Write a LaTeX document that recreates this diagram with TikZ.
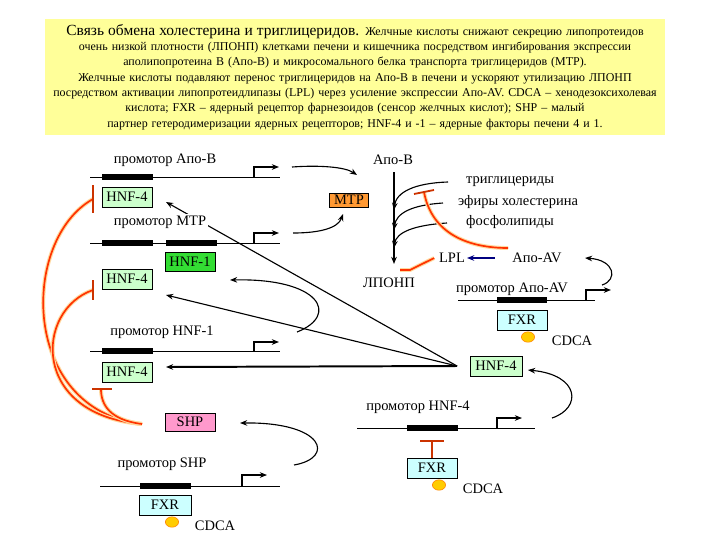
\documentclass[tikz,border=0pt]{standalone}
\usepackage{fontspec}
\setmainfont{Liberation Serif}
\usepackage{xcolor}
\usetikzlibrary{positioning,arrows.meta,shapes.geometric}
\definecolor{notec}{HTML}{FFFF99}
\definecolor{hnfc}{HTML}{CCFFCC}
\definecolor{hnfonec}{HTML}{33DD33}
\definecolor{mtpc}{HTML}{FF9933}
\definecolor{fxrc}{HTML}{CCFFFF}
\definecolor{shpc}{HTML}{FF99CC}
\definecolor{inhc}{HTML}{FF3300}
\definecolor{glowc}{HTML}{FFD9A0}
\definecolor{barc}{HTML}{CC3300}
\definecolor{cdcac}{HTML}{FFCC00}
\definecolor{lplc}{HTML}{000080}

\begin{document}
\begin{tikzpicture}[x=0.025cm,y=-0.025cm,>={Stealth[length=1.8mm,width=1.4mm]},
  font=\fontsize{10.3}{12}\selectfont,
  box/.style={draw,inner sep=0pt,minimum width=1.25cm,minimum height=0.5cm},
  hnf/.style={box,fill=hnfc},
  hnfone/.style={box,fill=hnfonec,minimum height=0.47cm},
  mtp/.style={box,fill=mtpc,minimum width=0.98cm,minimum height=0.36cm},
  fxr/.style={box,fill=fxrc},
  shp/.style={box,fill=shpc,minimum height=0.46cm},
  lig/.style={ellipse,draw=orange,fill=cdcac,inner sep=0pt,minimum width=0.33cm,minimum height=0.26cm},
  dna/.style={line width=0.6pt},
  site/.style={line width=3.6pt},
  act/.style={->,line width=0.8pt},
  inh/.style={draw=inhc,line width=1.2pt,preaction={draw=glowc,line width=2.8pt}},
  tbar/.style={draw=barc,line width=1.3pt}]
\useasboundingbox (0,0) rectangle (720,540);

% note
\node[fill=notec,minimum width=15.5cm,minimum height=2.875cm,text width=15.3cm,align=center,
  inner sep=0pt,font=\fontsize{8.5}{10.9}\selectfont] (note) at (355,77)
{{\fontsize{11}{13}\selectfont Связь обмена холестерина и триглицеридов.} Желчные кислоты снижают секрецию липопротеидов\\
очень низкой плотности (ЛПОНП) клетками печени и кишечника посредством ингибирования экспрессии\\
аполипопротеина В (Апо-В) и микросомального белка транспорта триглицеридов (МТР).\\
Желчные кислоты подавляют перенос триглицеридов на Апо-В в печени и ускоряют утилизацию ЛПОНП\\
посредством активации липопротеидлипазы (LPL) через усиление экспрессии Апо-AV. CDCA – хенодезоксихолевая\\
кислота; FXR – ядерный рецептор фарнезоидов (сенсор желчных кислот); SHP – малый\\
партнер гетеродимеризации ядерных рецепторов; HNF-4 и -1 – ядерные факторы печени 4 и 1.};

% promoters
\draw[dna] (90,177) -- (280,177);
\draw[site] (102,177) -- (153,177);
\draw[act] (254,177) -- (254,167) -- (279,167);
\draw[dna] (90,243) -- (280,243);
\draw[site] (102,243) -- (153,243);
\draw[site] (166,243) -- (217,243);
\draw[act] (254,243) -- (254,233) -- (279,233);
\draw[dna] (90,351) -- (280,351);
\draw[site] (102,351) -- (153,351);
\draw[act] (254,351) -- (254,342) -- (279,342);
\draw[dna] (100,486) -- (280,486);
\draw[site] (140,486) -- (191,486);
\draw[act] (242,486) -- (242,475) -- (267,475);
\draw[dna] (458,300) -- (595,300);
\draw[site] (497,300) -- (547,300);
\draw[act] (586,300) -- (586,290) -- (611,290);
\draw[dna] (357,428) -- (535,428);
\draw[site] (407,428) -- (458,428);
\draw[act] (497,428) -- (497,418) -- (522,418);

% boxes
\node[hnf] (h4a) at (127,197) {HNF-4};
\node[hnf] (h4b) at (127,279) {HNF-4};
\node[hnf] (h4c) at (127,372) {HNF-4};
\node[hnf,minimum width=1.3cm] (h4d) at (496,366) {HNF-4};
\node[hnfone] (h1) at (190,262) {HNF-1};
\node[mtp] (mtp) at (349,200) {MTP};
\node[fxr] (fxr1) at (522,320) {FXR};
\node[fxr] (fxr2) at (432,468) {FXR};
\node[fxr,minimum width=1.3cm] (fxr3) at (165,505) {FXR};
\node[shp] (shp) at (190,422) {SHP};
\node[lig] (g1) at (528,337) {};
\node[lig] (g2) at (439,485) {};
\node[lig] (g3) at (172,522) {};

% labels
\node (lpb) at (165,160) {промотор Апо-В};
\node (apob) at (393,160) {Апо-В};
\node (lph1) at (162,332) {промотор HNF-1};
\node (lph4) at (418,407) {промотор HNF-4};
\node (lpav) at (512,289) {промотор Апо-AV};
\node (lpshp) at (162,464) {промотор SHP};
\node (tg) at (510,182) {триглицериды};
\node (ec) at (518,202) {эфиры холестерина};
\node (pl) at (510,222) {фосфолипиды};
\node (lpl) at (452,258) {LPL};
\node (apoav) at (537,258) {Апо-AV};
\node (vldl) at (389,283) {ЛПОНП};
\node (cd1) at (572,341) {CDCA};
\node (cd2) at (483,489) {CDCA};
\node (cd3) at (215,526) {CDCA};

\coordinate (bS) at (292,167);
\coordinate (bE) at (357,175);
\coordinate (mS) at (293,233);
\coordinate (mE) at (343,214);
\coordinate (hub) at (457,366);
\coordinate (t4a) at (166,202);
\coordinate (t4b) at (166,295);
\coordinate (t4c) at (166,367);
\coordinate (n1S) at (297,332);
\coordinate (n1E) at (230,280);
\coordinate (sS) at (294,465);
\coordinate (sE) at (240,423);
\coordinate (aS) at (602,285);
\coordinate (aE) at (585,258);
\coordinate (h4S) at (552,418);
\coordinate (h4E) at (528,370);
\coordinate (v0) at (394,172);
\coordinate (v1) at (394,264);
\coordinate (c1) at (448,182);
\coordinate (c2) at (443,203);
\coordinate (c3) at (447,223);
\coordinate (j1) at (394,210);
\coordinate (j2) at (394,230);
\coordinate (j3) at (394,248);
\coordinate (rT) at (424,192);
\coordinate (rE) at (508,248);
\coordinate (lq) at (400,270);
\coordinate (r0) at (142,424);
\coordinate (ra) at (93,199);
\coordinate (rb) at (93,290);
\coordinate (rc) at (101,389);

% gene products
\draw[act] (bS) .. controls (320,165) and (345,167) .. (bE);
\draw[act] (mS) .. controls (320,233) and (338,228) .. (mE);
\draw[act] (n1S) .. controls (340,315) and (320,278) .. (n1E);
\draw[act] (sS) .. controls (335,458) and (325,422) .. (sE);
\draw[act] (aS) .. controls (618,280) and (615,260) .. (aE);
\draw[act] (h4S) .. controls (582,408) and (580,375) .. (h4E);

% HNF-4 targets
\draw[act] (hub) -- (t4a);
\draw[act] (hub) -- (t4b);
\draw[act,line width=1.4pt] (hub) -- (t4c);
\node[fill=white,inner sep=1pt] (lpm) at (160,222) {промотор MTP};

% Apo-B lipidation
\draw[act] (v0) -- (v1);
\draw[act] (c1) .. controls (415,183) and (396,192) .. (j1);
\draw[act] (c2) .. controls (412,205) and (396,213) .. (j2);
\draw[act] (c3) .. controls (415,225) and (396,232) .. (j3);
\draw[act,lplc,shorten <=9pt,shorten >=-2pt] (apoav) -- (lpl);

% inhibition
\draw[inh] (rT) .. controls (432,235) and (470,248) .. (rE);
\draw[tbar] (414,194) -- (434,190);
\draw[inh] (lpl.west) -- (410,270) -- (lq);
\draw[inh] (r0) .. controls (20,410) and (20,240) .. (ra);
\draw[inh] (r0) .. controls (30,415) and (35,310) .. (rb);
\draw[inh] (r0) .. controls (110,420) and (101,405) .. (rc);
\draw[tbar] (93,185) -- (93,213);
\draw[tbar] (93,280) -- (93,300);
\draw[tbar] (92,389) -- (112,389);
\draw[tbar,-{Bar[width=5.8mm]}] (fxr2.north) -- ++(0,-18);
\end{tikzpicture}
\end{document}
